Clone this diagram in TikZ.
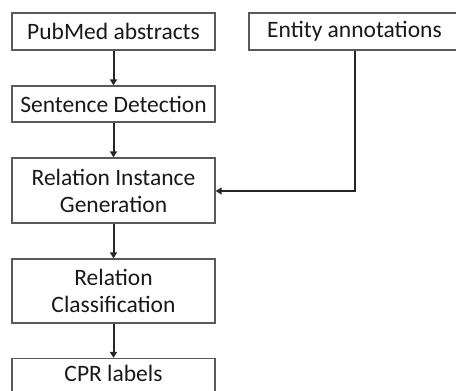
\documentclass[tikz,border=0pt]{standalone}
\usepackage{fontspec}
\setmainfont{Carlito}
\usetikzlibrary{arrows.meta}
\begin{document}
\begin{tikzpicture}[x=1pt,y=-1pt,
  box/.style={draw=black!65,line width=1.3pt,fill=white,inner sep=0pt,
    align=center,text=black!90,font=\fontsize{23.5}{27}\selectfont},
  arr/.style={line width=2pt,black!85,-{Triangle[length=6pt,width=7pt]}}]
\useasboundingbox (0,0) rectangle (456,391);
\clip (0,0) rectangle (456,391);
\node[box,minimum width=203pt,minimum height=37pt] (pub) at (113.5,31.5) {PubMed abstracts};
\node[box,minimum width=211pt,minimum height=37pt] (ent) at (354.5,31.5) {Entity annotations};
\node[box,minimum width=203pt,minimum height=36pt] (sen) at (113.5,104) {Sentence Detection};
\node[box,minimum width=203pt,minimum height=65pt] (rig) at (113.5,190.5) {Relation Instance\\Generation};
\node[box,minimum width=203pt,minimum height=64pt] (rc) at (113.5,291) {Relation\\Classification};
\node[box,minimum width=203pt,minimum height=40pt] (cpr) at (113.5,378.5) {};
\node[font=\fontsize{23.5}{27}\selectfont,text=black!90,inner sep=0pt] (cprt) at (113.5,373) {CPR labels};
\draw[arr] (pub) -- (sen);
\draw[arr] (sen) -- (rig);
\draw[arr] (rig) -- (rc);
\draw[arr] (rc) -- (cpr);
\coordinate (corner) at (ent.south |- 0,191);
\draw[arr] (ent.south) -- (corner) -- (rig.east |- corner);
\end{tikzpicture}
\end{document}
